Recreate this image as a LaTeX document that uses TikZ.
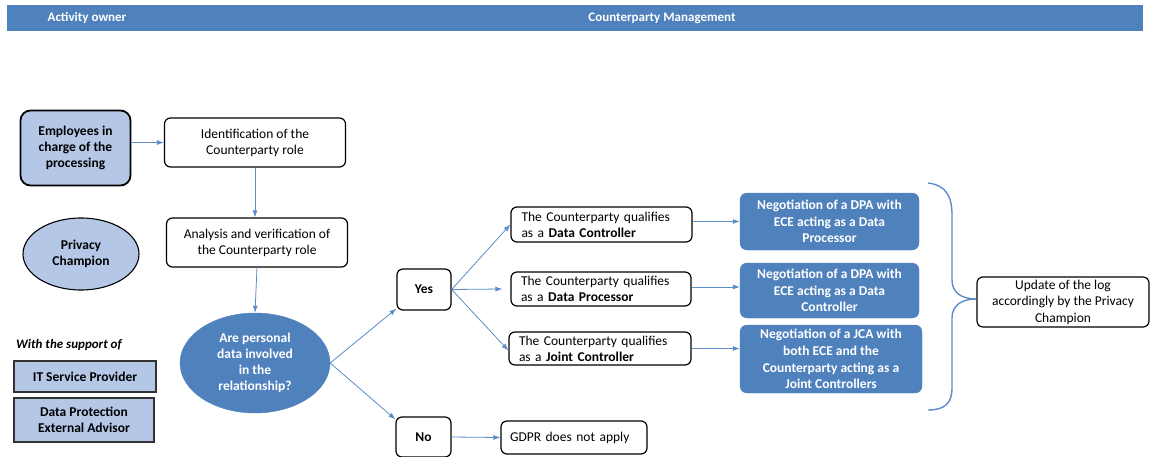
\documentclass[tikz,border=0pt]{standalone}
\usepackage{fontspec}
\setmainfont{Carlito}
\usetikzlibrary{shapes.geometric,arrows.meta,calc}
\definecolor{hdr}{HTML}{4F81BD}
\definecolor{lite}{HTML}{B4C7E7}
\definecolor{arr}{HTML}{5B8CC8}
\tikzset{
  every node/.style={font=\fontsize{13.5}{16}\selectfont, align=center, inner sep=2pt},
  wbox/.style={draw=black, line width=1.2pt, rounded corners=6pt, fill=white},
  bbox/.style={draw=hdr, fill=hdr, rounded corners=7pt, text=white, font=\bfseries\fontsize{13.5}{16.7}\selectfont},
  sqbox/.style={draw=black!80, line width=1.1pt, fill=lite, font=\bfseries\fontsize{13.5}{16}\selectfont},
  conn/.style={draw=arr, line width=0.8pt, -{Latex[length=7pt,width=5pt]}},
}
\begin{document}
\begin{tikzpicture}[x=1pt,y=-1pt]
\useasboundingbox (0,0) rectangle (1150,457);
% header
\fill[hdr] (7,5) rectangle (1143,31);
\node[text=white, font=\bfseries\fontsize{13}{15}\selectfont] (h1) at (87,18) {Activity owner};
\node[text=white, font=\bfseries\fontsize{13}{15}\selectfont] (h2) at (662,18) {Counterparty Management};
% left column
\node[draw=black, line width=1.8pt, rounded corners=10pt, fill=lite, minimum width=110pt, minimum height=75pt, font=\bfseries\fontsize{13.5}{16}\selectfont] (emp) at (75.5,148) {Employees in\\charge of the\\processing};
\node[ellipse, draw=black, line width=1.1pt, fill=lite, minimum width=116pt, minimum height=72pt, inner sep=0pt, font=\bfseries\fontsize{13.5}{16.5}\selectfont] (priv) at (81,254) {Privacy\\Champion};
\node[anchor=west, font=\bfseries\itshape\fontsize{13}{15}\selectfont, inner sep=0pt] (sup) at (16,345) {With the support of};
\node[sqbox, minimum width=142pt, minimum height=31pt] (it) at (85,376.5) {IT Service Provider};
\node[sqbox, minimum width=140pt, minimum height=44pt] (dpea) at (84,420) {Data Protection\\External Advisor};
% main flow
\node[wbox, minimum width=181pt, minimum height=49pt] (ident) at (255,142.5) {Identification of the\\Counterparty role};
\node[wbox, minimum width=181pt, minimum height=49pt] (anal) at (257,242.5) {Analysis and verification of\\the Counterparty role};
\node[ellipse, fill=hdr, draw=hdr, minimum width=150pt, minimum height=100pt, inner sep=0pt, text=white, font=\bfseries\fontsize{13.5}{16}\selectfont] (q) at (255,363) {Are personal\\data involved\\in the\\relationship?};
\node[wbox, minimum width=54pt, minimum height=41pt, font=\bfseries\fontsize{13.5}{16}\selectfont] (yes) at (424,289.5) {Yes};
\node[wbox, minimum width=55pt, minimum height=40pt, font=\bfseries\fontsize{13.5}{16}\selectfont] (no) at (423.5,437) {No};
\node[wbox, minimum width=181pt, minimum height=35pt, align=left, inner sep=0pt, text width=160pt] (dc) at (601.5,224.5) {The Counterparty qualifies\\as a \textbf{Data Controller}};
\node[wbox, minimum width=180pt, minimum height=34pt, align=left, inner sep=0pt, text width=160pt] (dp) at (601,289) {The Counterparty qualifies\\as a \textbf{Data Processor}};
\node[wbox, minimum width=182pt, minimum height=33pt, align=left, inner sep=0pt, text width=162pt] (jc) at (600,348.5) {The Counterparty qualifies\\as a \textbf{Joint Controller}};
\node[wbox, minimum width=146pt, minimum height=33pt, align=left, inner sep=0pt, text width=128pt] (gdpr) at (574,437.5) {GDPR does not apply};
\node[bbox, minimum width=179pt, minimum height=57pt] (n1) at (829.5,221.5) {Negotiation of a DPA with\\ECE acting as a Data\\Processor};
\node[bbox, minimum width=179pt, minimum height=55pt] (n2) at (829.5,290.5) {Negotiation of a DPA with\\ECE acting as a Data\\Controller};
\node[bbox, minimum width=182pt, minimum height=68pt, inner sep=0pt] (n3) at (831,359) {Negotiation of a JCA with\\both ECE and the\\Counterparty acting as a\\Joint Controllers};
\node[wbox, minimum width=172pt, minimum height=50pt, inner sep=0pt, font=\fontsize{13.5}{16.5}\selectfont] (upd) at (1063,302) {Update of the log\\accordingly by the Privacy\\Champion};
% connectors
\draw[conn] (emp.east |- ident.west) -- (ident.west);
\draw[conn] (ident.south) -- (ident.south |- anal.north);
\draw[conn] (anal.south) -- (q.north);
\draw[conn] (q.east) -- ([yshift=2pt]yes.south west);
\draw[conn] (q.east) -- ([yshift=-3pt]no.north west);
\draw[conn] (yes.east) -- (dc.west);
\draw[conn] (yes.east) -- ([xshift=-8pt]dp.west);
\draw[conn] (yes.east) -- ([yshift=-2pt]jc.west);
\draw[conn] (no.east) -- (gdpr.west);
\draw[conn] ([yshift=3pt]dc.east) -- ([yshift=3pt]dc.east -| n1.west);
\draw[conn] ([yshift=2pt]dp.east) -- ([yshift=2pt]dp.east -| n2.west);
\draw[conn] (jc.east) -- (jc.east -| n3.west);
% brace
\coordinate (tip) at ([yshift=3pt]upd.west);
\draw[arr, line width=1.4pt] (928,183) .. controls (945,185) and (952,195) .. (952,215) -- (952,280) .. controls (952,293) and (962,299) .. (tip);
\draw[arr, line width=1.4pt] (tip) .. controls (962,299) and (952,305) .. (952,318) -- (952,388) .. controls (952,403) and (945,410) .. (928,410);
\end{tikzpicture}
\end{document}
